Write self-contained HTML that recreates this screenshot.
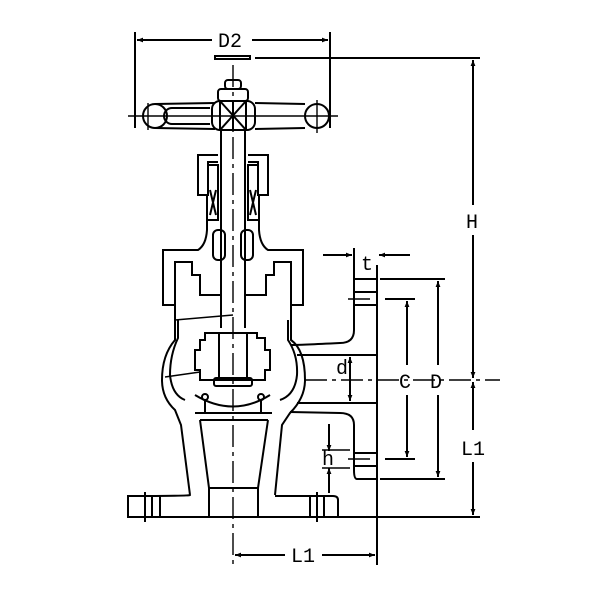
<!DOCTYPE html>
<html><head><style>body{margin:0;background:#fff}svg{display:block}text{font-family:"Liberation Mono",monospace;font-size:20px;fill:#000}</style></head>
<body>
<svg width="600" height="600" viewBox="0 0 600 600" xmlns="http://www.w3.org/2000/svg">
<defs><marker id="a" viewBox="0 0 10 10" refX="10" refY="5" markerWidth="14" markerHeight="6" orient="auto-start-reverse" markerUnits="userSpaceOnUse"><path d="M0,1 L10,5 L0,9 z" fill="#000"/></marker></defs>
<g fill="none" stroke="#000" stroke-width="2">
<line x1="233" y1="65" x2="233" y2="565" stroke-dasharray="22,5,4,5" stroke-width="1.4"/>
<line x1="305" y1="380" x2="500" y2="380" stroke-dasharray="22,5,4,5" stroke-width="1.4"/>
<line x1="135" y1="32" x2="135" y2="128"/><line x1="330" y1="32" x2="330" y2="128"/>
<line x1="137" y1="40" x2="212" y2="40" marker-start="url(#a)"/><line x1="252" y1="40" x2="328" y2="40" marker-end="url(#a)"/>
<rect x="215" y="56" width="35" height="3"/>
<line x1="255" y1="58" x2="480" y2="58"/>
<line x1="128" y1="116" x2="338" y2="116" stroke-width="1.4"/>
<circle cx="155" cy="116" r="12"/><circle cx="317" cy="116" r="12"/>
<line x1="148" y1="103" x2="148" y2="130" stroke-width="1.4"/><line x1="317" y1="100" x2="317" y2="133" stroke-width="1.4"/>
<path d="M155,104 L215,103 M155,128 L215,129 M305,104 L255,103 M305,128 L255,129"/>
<path d="M172,108 L210,108 M172,124 L210,124 M172,108 A8,8 0 0 0 172,124"/>
<rect x="212" y="101" width="43" height="29" rx="8"/>
<rect x="220" y="101" width="26" height="29"/>
<path d="M220,101 L246,130 M246,101 L220,130 M233,101 V130"/>
<rect x="218" y="89" width="30" height="12" rx="3"/>
<rect x="225" y="80" width="16" height="9" rx="3"/>
<line x1="221" y1="130" x2="221" y2="328"/><line x1="245" y1="130" x2="245" y2="328"/>
<path d="M218,155 H198 V195 H208 V162 H218 M248,155 H268 V195 H258 V162 H248"/>
<path d="M208,165 H218 V220 H208 M258,165 H248 V220 H258"/>
<path d="M210,190 L216,215 M216,190 L210,215 M250,190 L256,215 M256,190 L250,215"/>
<path d="M207,195 L207,230 Q206,245 198,250 H163 V305 H175 M259,195 L259,230 Q260,245 268,250 H303 V305 H291"/>
<path d="M175,305 V262 H192 V275 H200 V295 H220 M291,305 V262 H274 V275 H266 V295 H246"/>
<rect x="213" y="230" width="12" height="30" rx="5"/><rect x="241" y="230" width="12" height="30" rx="5"/>
<path d="M175,305 V340 Q162,355 162,380 Q162,398 175,410 L181,425 L190,495 M291,305 V340 Q305,350 305,380 Q305,398 290,413 L282,425 L275,495"/>
<path d="M178,320 V338 Q170,355 170,375 Q172,395 185,400 M288,320 V340 Q298,355 297,375 Q295,395 280,400"/>
<line x1="175" y1="320" x2="233" y2="315" stroke-width="1.4"/>
<path d="M200,340 H205 V333 H257 V338 H265 V350 H270 V370 H265 V380 H200 V370 H195 V350 H200 Z"/>
<rect x="219" y="333" width="28" height="47"/>
<rect x="214" y="378" width="38" height="8" rx="2"/>
<line x1="165" y1="377" x2="200" y2="372" stroke-width="1.4"/>
<path d="M195,395 Q233,418 270,395"/>
<circle cx="205" cy="397" r="3"/><circle cx="261" cy="397" r="3"/>
<line x1="205" y1="400" x2="205" y2="413"/><line x1="261" y1="400" x2="261" y2="413"/>
<path d="M195,413 H272"/>
<path d="M200,420 L209,488 V517 M268,420 L258,488 V517 M200,420 H268 M209,488 H258"/>
<path d="M291,345 Q300,345 340,343 Q354,343 354,330 V279 H377 V479 H357 Q354,479 354,470 V425 Q354,413 340,413 L290,412"/>
<line x1="297" y1="355" x2="377" y2="355"/><line x1="297" y1="403" x2="377" y2="403"/>
<line x1="354" y1="292" x2="377" y2="292"/><line x1="354" y1="305" x2="377" y2="305"/>
<line x1="354" y1="453" x2="377" y2="453"/><line x1="354" y1="466" x2="377" y2="466"/>
<line x1="348" y1="299" x2="370" y2="299" stroke-width="1.4"/><line x1="385" y1="299" x2="415" y2="299"/>
<line x1="348" y1="459" x2="370" y2="459" stroke-width="1.4"/><line x1="385" y1="459" x2="415" y2="459"/>
<line x1="377" y1="265" x2="377" y2="565"/><line x1="354" y1="248" x2="354" y2="280"/>
<path d="M190,495 Q190,496 128,496 L128,517 H338 V500 Q338,496 333,496 H275"/>
<line x1="145" y1="492" x2="145" y2="522"/><line x1="152" y1="496" x2="152" y2="517"/><line x1="160" y1="496" x2="160" y2="517"/>
<line x1="317" y1="492" x2="317" y2="522"/><line x1="324" y1="496" x2="324" y2="517"/><line x1="310" y1="496" x2="310" y2="517"/>
<line x1="128" y1="517" x2="480" y2="517"/>
<line x1="323" y1="255" x2="352" y2="255" marker-end="url(#a)"/><line x1="410" y1="255" x2="379" y2="255" marker-end="url(#a)"/>
<line x1="380" y1="279" x2="445" y2="279"/><line x1="380" y1="479" x2="445" y2="479"/>
<line x1="407" y1="301" x2="407" y2="365" marker-start="url(#a)"/><line x1="407" y1="395" x2="407" y2="457" marker-end="url(#a)"/>
<line x1="438" y1="281" x2="438" y2="365" marker-start="url(#a)"/><line x1="438" y1="395" x2="438" y2="477" marker-end="url(#a)"/>
<line x1="473" y1="60" x2="473" y2="205" marker-start="url(#a)"/><line x1="473" y1="235" x2="473" y2="378" marker-end="url(#a)"/>
<line x1="473" y1="382" x2="473" y2="430" marker-start="url(#a)"/><line x1="473" y1="462" x2="473" y2="515" marker-end="url(#a)"/>
<line x1="350" y1="357" x2="350" y2="401" marker-start="url(#a)" marker-end="url(#a)"/>
<line x1="329" y1="424" x2="329" y2="451" marker-end="url(#a)"/><line x1="329" y1="493" x2="329" y2="468" marker-end="url(#a)"/>
<line x1="322" y1="450" x2="350" y2="450" stroke-width="1.4"/><line x1="322" y1="468" x2="350" y2="468" stroke-width="1.4"/>
<line x1="235" y1="555" x2="285" y2="555" marker-start="url(#a)"/><line x1="322" y1="555" x2="375" y2="555" marker-end="url(#a)"/>
</g>
<text x="218" y="47">D2</text>
<text x="361" y="270" font-size="18">t</text>
<text x="399" y="388">C</text>
<text x="430" y="388">D</text>
<text x="466" y="228">H</text>
<text x="461" y="455">L1</text>
<text x="336" y="374" font-size="14">d</text>
<text x="322" y="465" font-size="15">h</text>
<text x="291" y="562">L1</text>
</svg>
</body></html>
